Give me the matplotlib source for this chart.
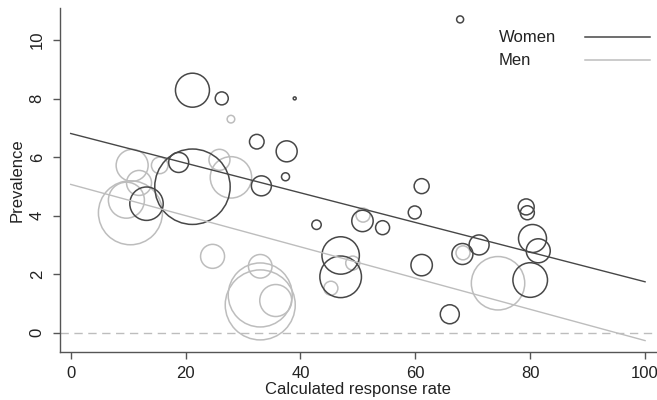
import numpy as np
import matplotlib
matplotlib.use("Agg")
import matplotlib.pyplot as plt

plt.rcParams["font.family"] = ["Liberation Sans", "DejaVu Sans"]

# ===== data =====
# women: response rate, prevalence, bubble size
women_x = [21.2, 26.3, 39.0, 32.4, 37.6, 37.4, 33.2, 18.8, 21.2, 13.2,
           42.8, 47.0, 47.0, 50.8, 54.3, 61.1, 59.9, 61.1, 79.3, 79.5,
           80.4, 81.4, 80.0, 71.1, 68.2, 66.0, 67.8]
women_y = [8.29, 8.01, 8.01, 6.53, 6.20, 5.33, 5.02, 5.82, 4.99, 4.41,
           3.69, 2.64, 1.91, 3.82, 3.59, 5.01, 4.11, 2.31, 4.30, 4.10,
           3.22, 2.80, 1.80, 3.00, 2.69, 0.63, 10.71]
women_size = [17, 6.5, 1.5, 7.3, 10.5, 4, 10, 10, 37.7, 16.7,
              4.7, 18.7, 20.8, 10.7, 7, 7.5, 6.5, 10.7, 8, 7,
              14, 12, 17.3, 10, 10.5, 9.5, 3.5]

# men
men_x = [10.7, 15.5, 11.9, 9.7, 10.4, 25.9, 27.9, 24.7, 33.0, 33.0,
         33.0, 35.7, 27.9, 50.9, 49.1, 45.3, 68.3, 74.4]
men_y = [5.72, 5.72, 5.12, 4.53, 4.10, 5.91, 5.31, 2.61, 2.27, 0.95,
         1.29, 1.10, 7.30, 4.02, 2.38, 1.52, 2.73, 1.69]
men_size = [16, 8.3, 12.5, 18, 32, 10.5, 20.7, 12, 11.8, 35,
            32, 16, 3.8, 7, 7, 7, 7, 26.7]

# fitted lines, value at x = 0 and x = 100
fit_x = [0, 100]
women_fit = [6.81, 1.74]
men_fit = [5.07, -0.27]

DARK = "#474747"
LIGHT = "#bdbdbd"


def area(r):
    # bubble radius (px at 100 dpi) -> scatter size in pt^2
    return (2 * np.asarray(r) * 0.72) ** 2


# ===== Plot =====
fig = plt.figure(figsize=(6.57, 4.0), dpi=100)
ax = fig.add_axes([60 / 657, 48 / 400, 596 / 657, 344 / 400])

ax.axhline(0, color=LIGHT, linestyle=(0, (6, 4)), linewidth=1.0, zorder=1)

ax.scatter(men_x, men_y, s=area(men_size), facecolors="none",
           edgecolors=LIGHT, linewidths=1.1, zorder=2)
ax.scatter(women_x, women_y, s=area(women_size), facecolors="none",
           edgecolors=DARK, linewidths=1.1, zorder=3)

ax.plot(fit_x, men_fit, color=LIGHT, linewidth=1.0, zorder=4)
ax.plot(fit_x, women_fit, color=DARK, linewidth=1.0, zorder=4)

ax.set_xlim(-1.86, 101.9)
ax.set_ylim(-0.66, 11.1)
ax.set_xticks([0, 20, 40, 60, 80, 100])
ax.set_yticks([0, 2, 4, 6, 8, 10])
for lab in ax.get_yticklabels():
    lab.set_rotation(90)
    lab.set_va("center")

ax.spines["top"].set_visible(False)
ax.spines["right"].set_visible(False)
for sp in ("left", "bottom"):
    ax.spines[sp].set_color("#555555")
    ax.spines[sp].set_linewidth(1.0)
ax.tick_params(axis="both", length=5, width=1.0, color="#555555",
               labelsize=12, labelcolor="#222222")
ax.tick_params(axis="x", pad=5)
ax.tick_params(axis="y", pad=6)

ax.set_xlabel("Calculated response rate", fontsize=12, color="#222222", labelpad=1)
ax.set_ylabel("Prevalence", fontsize=12, color="#222222", labelpad=4)

# --- legend, Stata style: text then line ---
for label, col, yy in [("Women", DARK, 0.915), ("Men", LIGHT, 0.848)]:
    ax.text(0.736, yy, label, transform=ax.transAxes, fontsize=12,
            color="#222222", va="center", ha="left")
    ax.plot([0.881, 0.99], [yy, yy], transform=ax.transAxes,
            color=col, linewidth=1.1, clip_on=False)

fig.savefig("out.png", dpi=100)
